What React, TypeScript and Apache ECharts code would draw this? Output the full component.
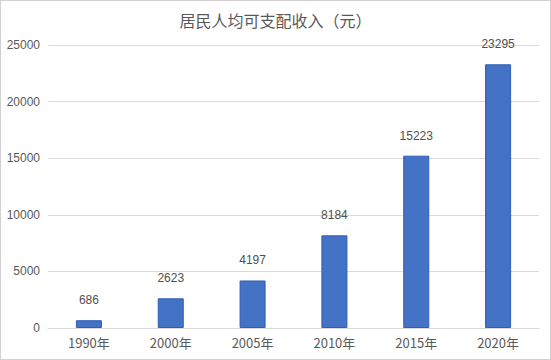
import React, { useEffect, useRef } from "react";
import * as echarts from "echarts";

const categories = ["1990年", "2000年", "2005年", "2010年", "2015年", "2020年"];
const values = [686, 2623, 4197, 8184, 15223, 23295];
const title = "居民人均可支配收入（元）";

export default function App() {
  const ref = useRef<HTMLDivElement>(null);
  useEffect(() => {
    document.body.style.margin = "0";
    const chart = echarts.init(ref.current!, undefined, { renderer: "svg" });
    chart.setOption({
      animation: false,
      backgroundColor: "#ffffff",
      title: {
        text: title,
        left: "center",
        top: 7,
        textStyle: { fontSize: 16, fontWeight: "normal", color: "#595959", fontFamily: "Noto Sans CJK SC" },
      },
      grid: { left: 48, right: 12, top: 45, bottom: 32 },
      xAxis: {
        type: "category",
        data: categories,
        axisLine: { lineStyle: { color: "#d9d9d9" } },
        axisTick: { show: false },
        axisLabel: { color: "#595959", fontSize: 13, margin: 8, fontFamily: "Noto Sans CJK SC" },
      },
      yAxis: {
        type: "value",
        min: 0,
        max: 25000,
        interval: 5000,
        axisLine: { show: false },
        axisTick: { show: false },
        splitLine: { lineStyle: { color: "#d9d9d9" } },
        axisLabel: {
          color: "#595959",
          fontSize: 12,
          margin: 8,
          fontFamily: "Liberation Sans",
          formatter: (v: number) => String(v),
        },
      },
      series: [
        {
          type: "bar",
          data: values,
          barWidth: 26,
          itemStyle: { color: "#4472c4", borderColor: "#2f5cb8", borderWidth: 1 },
          label: {
            show: true,
            position: "top",
            distance: 14,
            color: "#505050",
            fontSize: 12,
            fontFamily: "Liberation Sans",
          },
        },
      ],
    });
    return () => chart.dispose();
  }, []);
  return (
    <div style={{ position: "absolute", left: 0, top: 0, width: 551, height: 360 }}>
      <div ref={ref} style={{ position: "absolute", left: 0, top: 0, width: 551, height: 360 }} />
      <div
        style={{
          position: "absolute",
          left: 0,
          top: 0,
          width: 551,
          height: 360,
          boxSizing: "border-box",
          border: "1px solid #d0d0d0",
          pointerEvents: "none",
        }}
      />
    </div>
  );
}
